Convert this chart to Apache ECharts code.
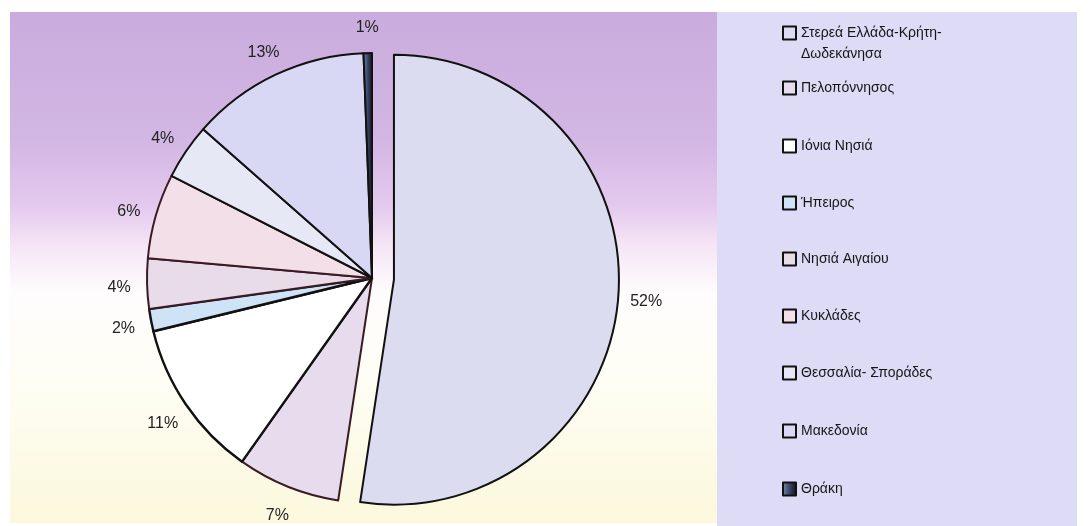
<!DOCTYPE html>
<html><head><meta charset="utf-8">
<script src="https://cdn.jsdelivr.net/npm/echarts@6/dist/echarts.min.js"></script>
<style>html,body{margin:0;padding:0;background:#fff}#c{width:1091px;height:526px}</style>
</head><body><div id="c"></div>
<script>
const regions = ['Στερεά Ελλάδα-Κρήτη-Δωδεκάνησα','Πελοπόννησος','Ιόνια Νησιά','Ήπειρος','Νησιά Αιγαίου','Κυκλάδες','Θεσσαλία- Σποράδες','Μακεδονία','Θράκη'];
// shares (%); they round to the printed labels
const shares = [52.4,7.4,11.4,1.6,3.6,6.1,4.0,12.9,0.6];
const legendLabels = [' \nΣτερεά Ελλάδα-Κρήτη-\nΔωδεκάνησα','Πελοπόννησος','Ιόνια Νησιά','Ήπειρος','Νησιά Αιγαίου','Κυκλάδες','Θεσσαλία- Σποράδες','Μακεδονία','Θράκη'];
const sliceColors = ['#dcdcf0','#e6dced','#ffffff','#cfe3f6','#e8dce9','#f3dfe7','#e6e8f5','#d8d8f4',
  {type:'linear',x:0,y:0,x2:1,y2:0,colorStops:[{offset:0,color:'#7d8cb4'},{offset:0.5,color:'#3a4668'},{offset:1,color:'#0d0d12'}]}];
const borderColors = ['#111','#3a1a24','#111','#111','#3a1a24','#3a1a24','#111','#111','#111'];

const FONT = 'Liberation Sans, Arial, sans-serif';
const chart = echarts.init(document.getElementById('c'), null, {renderer:'canvas'});

const pieData = regions.map((n,i)=>{
  const st = {color: sliceColors[i], borderColor: borderColors[i], borderWidth: i===2||i===3?2.4:2};
  const d = {name:n, value:shares[i], itemStyle: st, select:{itemStyle: st}};
  if(i===0) d.selected = true;
  return d;
});
// transparent ring carrying the percentage labels (centred radially, Excel-like)
const labelData = regions.map((n,i)=>{
  const st = {color:'rgba(0,0,0,0)', borderWidth:0};
  const d = {name:n, value:shares[i], itemStyle: st, select:{itemStyle: st}};
  if(i===0) d.selected = true;
  return d;
});

const legendCenters = [32,87,145,202,258,315,372,430,488];
const legends = regions.map((n,i)=>({
  data:[n], left:782, top: i===0 ? legendCenters[i]-30.5 : legendCenters[i]-9.5,
  padding:0, itemWidth:13, itemHeight:13, icon:'rect',
  selectedMode:false, itemGap:0,
  formatter: ()=>legendLabels[i],
  itemStyle:{borderColor:'#111', borderWidth:2},
  textStyle: {fontSize:14, color:'#161616', fontFamily:FONT, lineHeight:21}
}));

chart.setOption({
  animation:false,
  backgroundColor:'#ffffff',
  graphic:[
    {type:'rect', z:-10, shape:{x:10,y:12,width:708,height:511},
     style:{fill:{type:'linear',x:0,y:0,x2:0,y2:1,colorStops:[
       {offset:0,color:'#c9acdd'},{offset:0.25,color:'#d2b6e3'},{offset:0.38,color:'#e4c9ee'},
       {offset:0.46,color:'#f6e6f6'},{offset:0.55,color:'#fefcfd'},{offset:0.7,color:'#fefef6'},
       {offset:1,color:'#fbf8dc'}]}}},
    {type:'rect', z:-9, shape:{x:717,y:12,width:360,height:514}, style:{fill:'#dddbf6'}}
  ],
  legend: legends,
  series:[{
    type:'pie', center:[372,278], radius:225, startAngle:90, clockwise:true,
    selectedMode:'single', selectedOffset:22, silent:true,
    label:{show:false}, labelLine:{show:false},
    emphasis:{disabled:true},
    data: pieData
  },{
    type:'pie', center:[372,281], radius:[221,279], startAngle:90, clockwise:true,
    selectedMode:'single', selectedOffset:22, silent:true, z:3,
    label:{show:true, position:'inside', formatter:p=>Math.round(p.percent)+'%', fontSize:16, color:'#222', fontFamily:FONT},
    labelLine:{show:false},
    emphasis:{disabled:true},
    data: labelData
  }]
});
</script></body></html>
